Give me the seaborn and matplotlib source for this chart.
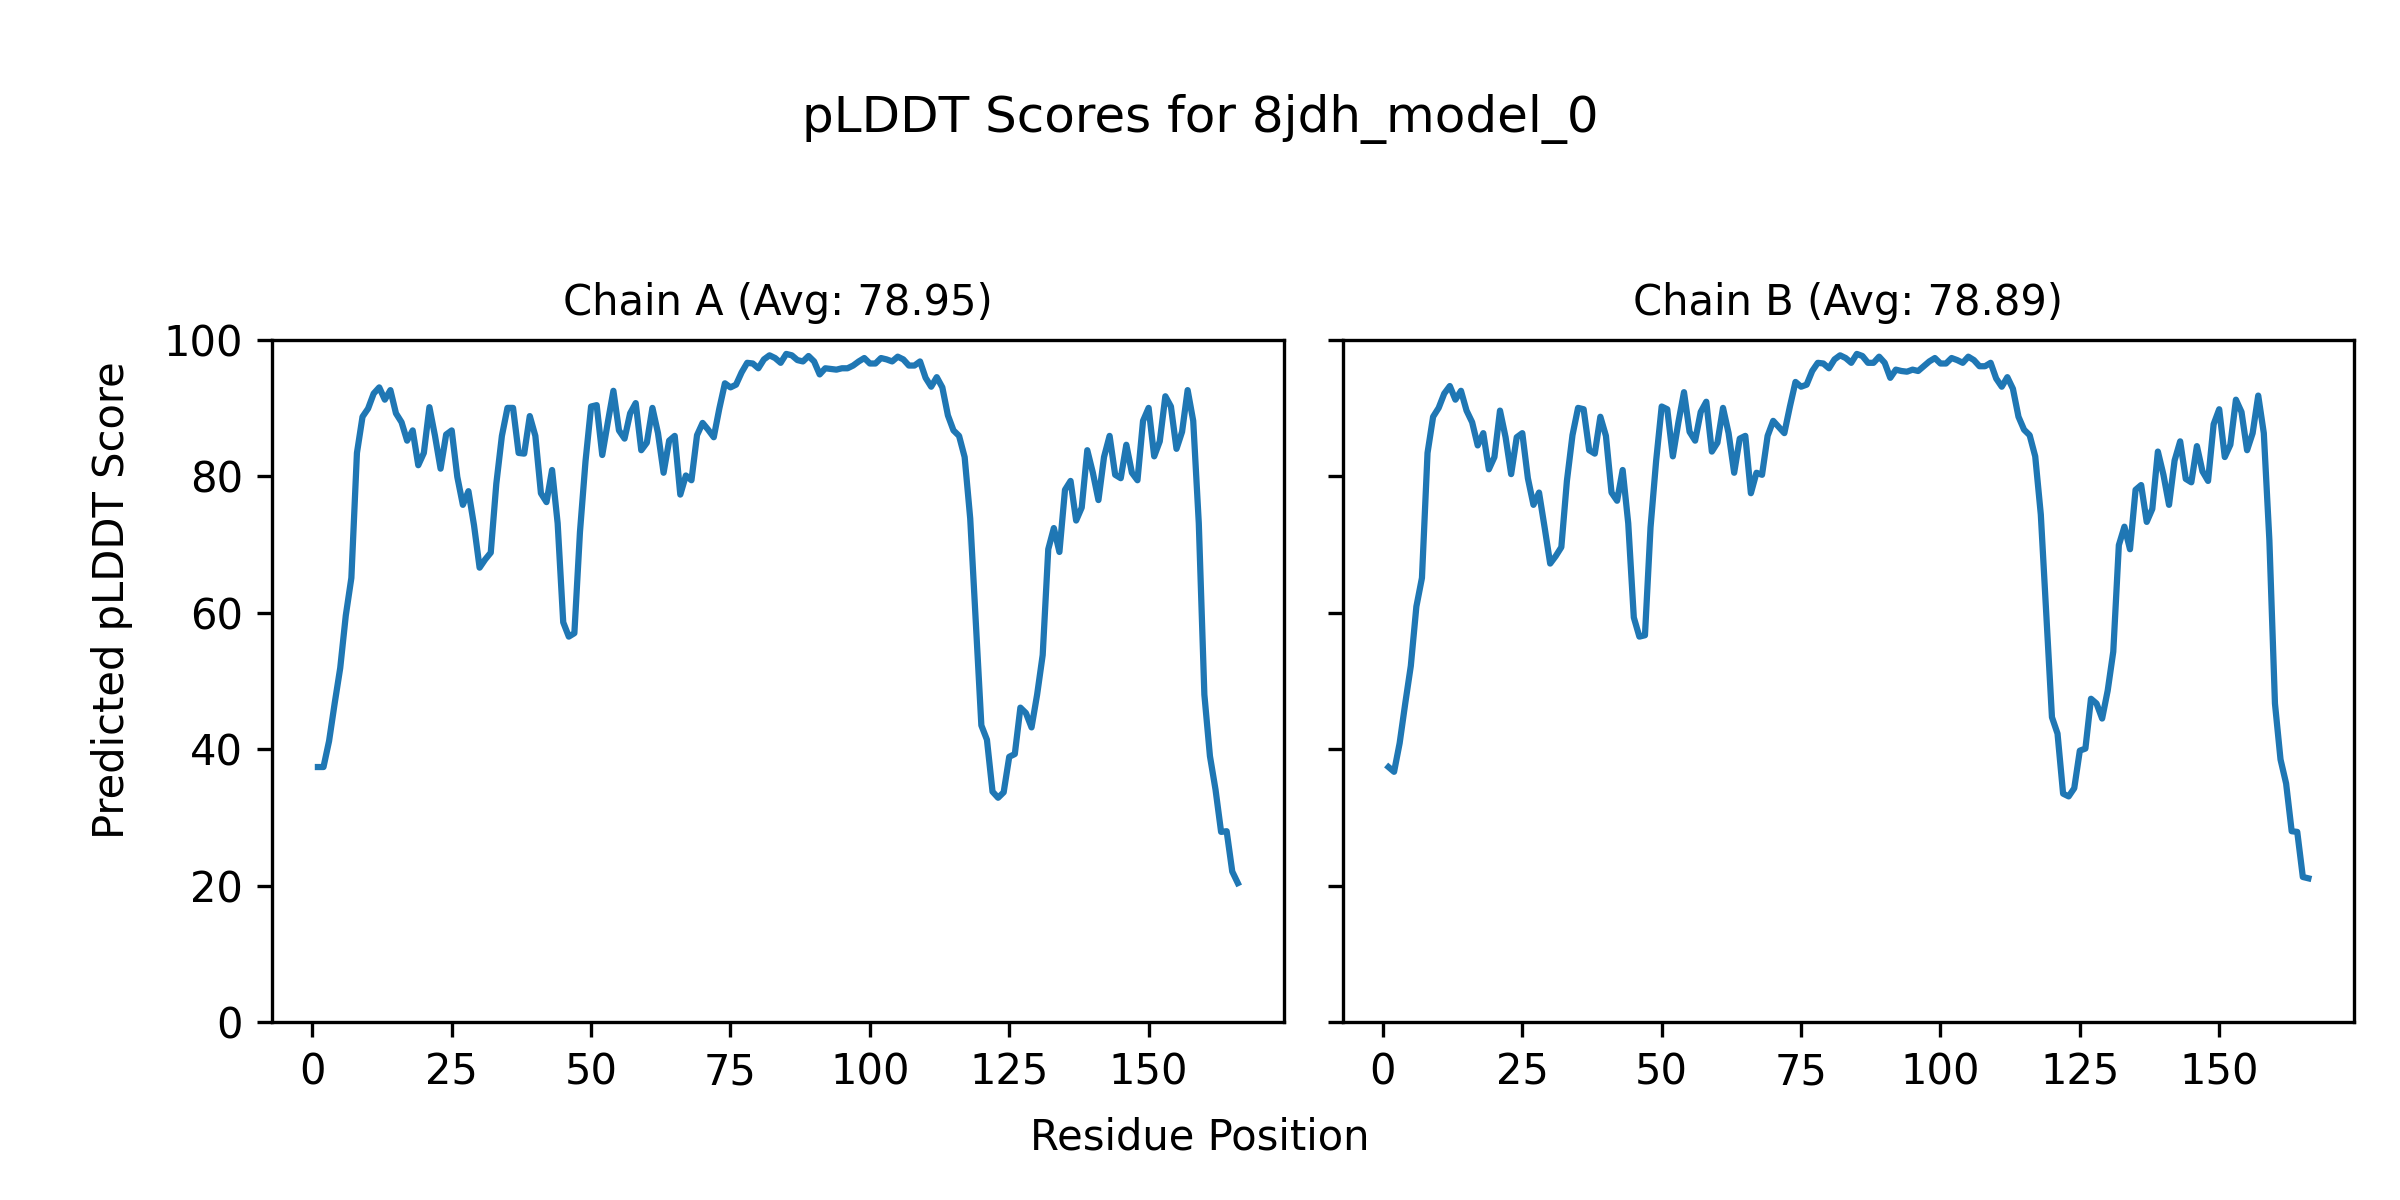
import numpy as np
import pandas as pd
import matplotlib
matplotlib.use("Agg")
import matplotlib.pyplot as plt
import seaborn as sns

model_name = "8jdh_model_0"
chain_ids = ["A", "B"]
chain_avgs = ["78.95", "78.89"]

plddt_a = [
    37.4, 37.4, 41.2, 46.7, 51.9, 59.6, 65.1, 83.4, 88.7, 89.9,
    92.1, 93.0, 91.2, 92.6, 89.2, 87.9, 85.2, 86.7, 81.6, 83.4,
    90.1, 85.9, 81.1, 86.1, 86.7, 79.9, 75.8, 77.8, 72.8, 66.6,
    67.8, 68.8, 78.9, 85.9, 90.0, 90.0, 83.4, 83.3, 88.8, 85.9,
    77.5, 76.2, 80.9, 73.1, 58.6, 56.5, 57.0, 71.8, 82.2, 90.2,
    90.4, 83.1, 87.9, 92.5, 86.7, 85.5, 89.2, 90.7, 83.8, 84.9,
    90.0, 86.3, 80.5, 85.2, 85.9, 77.3, 80.1, 79.4, 86.0, 87.8,
    86.8, 85.7, 89.9, 93.6, 93.0, 93.4, 95.2, 96.6, 96.5, 95.8,
    97.1, 97.7, 97.3, 96.6, 97.9, 97.7, 97.0, 96.8, 97.6, 96.8,
    94.9, 95.8, 95.7, 95.6, 95.8, 95.8, 96.2, 96.8, 97.3, 96.5,
    96.5, 97.3, 97.1, 96.8, 97.5, 97.1, 96.2, 96.2, 96.8, 94.4,
    93.1, 94.5, 93.0, 88.9, 86.7, 85.9, 82.8, 73.8, 58.5, 43.5,
    41.4, 33.8, 32.9, 33.7, 38.9, 39.3, 46.1, 45.3, 43.2, 48.0,
    53.8, 69.3, 72.4, 68.9, 78.0, 79.3, 73.5, 75.4, 83.8, 80.5,
    76.5, 82.8, 85.9, 80.2, 79.7, 84.6, 80.5, 79.4, 88.1, 90.0,
    82.9, 85.1, 91.7, 90.2, 84.0, 86.5, 92.6, 88.1, 73.1, 48.0,
    39.0, 34.1, 27.9, 28.0, 22.1, 20.4,
]

plddt_b = [
    37.4, 36.7, 40.9, 46.7, 52.2, 60.9, 65.1, 83.4, 88.7, 90.0,
    92.1, 93.2, 91.2, 92.5, 89.6, 87.9, 84.5, 86.3, 81.0, 82.8,
    89.6, 85.7, 80.3, 85.7, 86.3, 79.7, 75.8, 77.6, 72.5, 67.2,
    68.3, 69.6, 79.3, 86.0, 90.0, 89.8, 83.8, 83.3, 88.7, 85.9,
    77.6, 76.4, 80.9, 73.1, 59.3, 56.5, 56.7, 72.5, 82.2, 90.2,
    89.8, 82.9, 87.9, 92.3, 86.5, 85.2, 89.4, 90.9, 83.6, 84.9,
    90.0, 86.3, 80.5, 85.5, 85.9, 77.5, 80.5, 80.2, 85.9, 88.1,
    87.2, 86.3, 90.2, 93.8, 93.1, 93.4, 95.4, 96.6, 96.5, 95.8,
    97.1, 97.7, 97.3, 96.6, 97.9, 97.6, 96.6, 96.6, 97.5, 96.6,
    94.4, 95.6, 95.4, 95.3, 95.6, 95.4, 96.1, 96.8, 97.3, 96.5,
    96.5, 97.3, 97.0, 96.6, 97.5, 97.0, 96.1, 96.1, 96.6, 94.3,
    93.1, 94.5, 92.8, 88.7, 86.8, 86.0, 82.9, 74.4, 59.6, 44.7,
    42.3, 33.5, 33.1, 34.3, 39.8, 40.1, 47.4, 46.7, 44.5, 48.6,
    54.3, 69.9, 72.6, 69.3, 78.0, 78.7, 73.3, 75.2, 83.6, 80.2,
    75.8, 82.3, 85.1, 79.6, 79.1, 84.4, 80.7, 79.3, 87.6, 89.8,
    82.8, 84.6, 91.2, 89.4, 83.8, 86.3, 91.8, 86.3, 70.6, 46.7,
    38.5, 35.0, 28.0, 27.9, 21.3, 21.1,
]

residues = list(range(1, len(plddt_a) + 1))

fig, axes = plt.subplots(1, 2, figsize=(8, 4), dpi=300, sharey=True)
fig.subplots_adjust(left=0.1133, right=0.981, bottom=0.148, top=0.717, wspace=0.058)

for ax, cid, avg, vals in zip(axes, chain_ids, chain_avgs, [plddt_a, plddt_b]):
    df = pd.DataFrame({"Residue": residues[:len(vals)], "pLDDT": vals})
    sns.lineplot(data=df, x="Residue", y="pLDDT", ax=ax, color="#1f77b4", linewidth=1.5)
    ax.set_title(f"Chain {cid} (Avg: {avg})", fontsize=10)
    ax.set_xlabel("")
    ax.set_ylabel("")
    ax.set_ylim(0, 100)
    ax.set_xticks([0, 25, 50, 75, 100, 125, 150])
    ax.tick_params(labelsize=10)

fig.suptitle(f"pLDDT Scores for {model_name}", fontsize=12, y=0.901, va="center")
fig.supxlabel("Residue Position", fontsize=10, y=0.0525, va="center")
fig.supylabel("Predicted pLDDT Score", fontsize=10, x=0.0465, ha="center", va="center")

fig.savefig("out.png", dpi=300)
